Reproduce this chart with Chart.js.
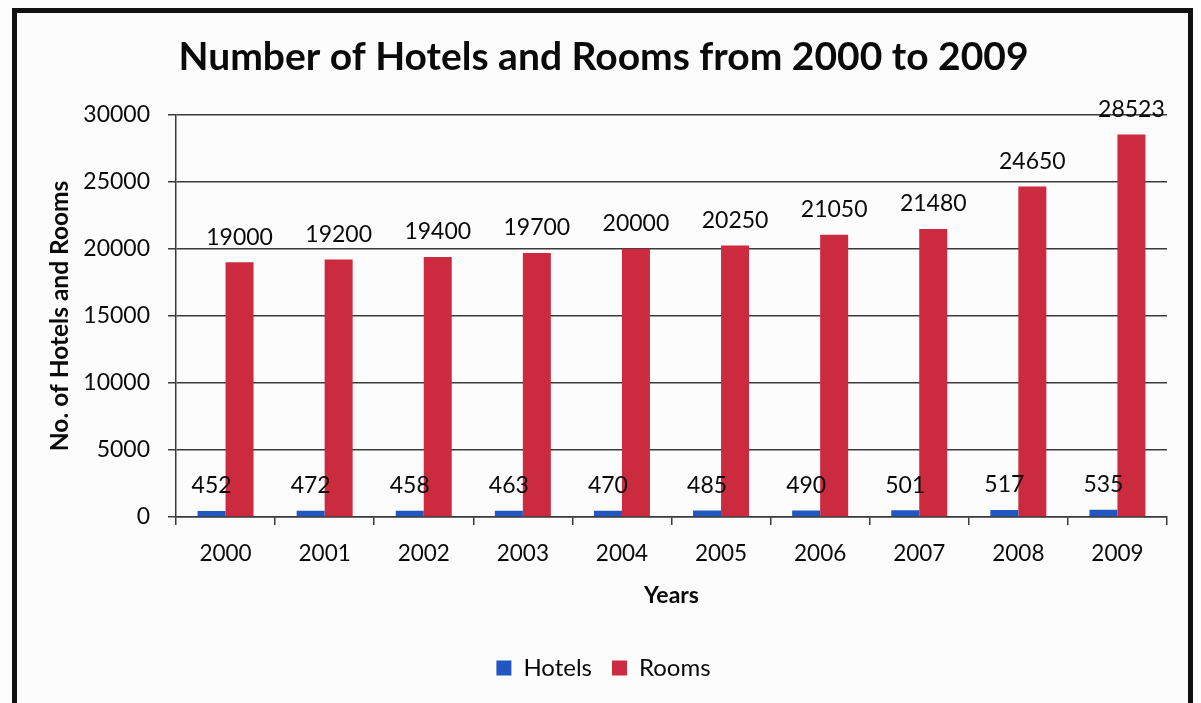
<!DOCTYPE html>
<html>
<head>
<meta charset="utf-8">
<script src="https://cdn.jsdelivr.net/npm/chart.js@4/dist/chart.umd.min.js"></script>
<style>
  html, body { margin: 0; padding: 0; background: #fdfdfd; overflow: hidden; }
  .frame {
    position: absolute; left: 12px; top: 8px; width: 1171px; height: 760px;
    border: 5px solid #111; background: #fcfcfc;
  }
  .wrap { position: absolute; left: 0; top: 0; width: 1201px; height: 703px; }
</style>
</head>
<body>
<div class="frame"></div>
<div class="wrap"><canvas id="hotelsChart" width="1201" height="703"></canvas></div>
<script>
const years = ['2000', '2001', '2002', '2003', '2004', '2005', '2006', '2007', '2008', '2009'];
const hotels = [452, 472, 458, 463, 470, 485, 490, 501, 517, 535];
const rooms = [19000, 19200, 19400, 19700, 20000, 20250, 21050, 21480, 24650, 28523];
const yTicks = [0, 5000, 10000, 15000, 20000, 25000, 30000];

const FONT = "Lato, 'Open Sans', sans-serif";
const AXIS = '#3a3a3a';

// value labels above each bar
const barLabels = {
  id: 'barLabels',
  afterDatasetsDraw(chart) {
    const ctx = chart.ctx;
    ctx.save();
    ctx.font = '23px ' + FONT;
    ctx.fillStyle = '#0a0a0a';
    ctx.textAlign = 'center';
    ctx.textBaseline = 'middle';
    chart.data.datasets.forEach((ds, i) => {
      chart.getDatasetMeta(i).data.forEach((bar, j) => {
        ctx.fillText(String(ds.data[j]), bar.x, bar.y - 25);
      });
    });
    ctx.restore();
  }
};

new Chart(document.getElementById('hotelsChart'), {
  type: 'bar',
  data: {
    labels: years,
    datasets: [
      { label: 'Hotels', data: hotels, backgroundColor: '#2256c0' },
      { label: 'Rooms', data: rooms, backgroundColor: '#cc2a3f' }
    ]
  },
  options: {
    responsive: false,
    animation: false,
    layout: { padding: { left: 40, right: 34, top: 33, bottom: 13 } },
    datasets: { bar: { categoryPercentage: 0.565, barPercentage: 1.0 } },
    scales: {
      x: {
        afterFit(scale) { scale.height = 119; },
        grid: { drawOnChartArea: false, drawTicks: true, tickLength: 8, color: AXIS, lineWidth: 1.5 },
        border: { color: AXIS, width: 1.5 },
        ticks: { color: '#0a0a0a', padding: 15, font: { family: FONT, size: 22.5 } },
        title: {
          display: true, text: 'Years', color: '#0a0a0a',
          font: { family: FONT, size: 23, weight: 'bold' },
          padding: { top: 0, bottom: 27 }
        }
      },
      y: {
        min: 0, max: 30000,
        afterFit(scale) { scale.width = 136; },
        afterBuildTicks(scale) { scale.ticks = yTicks.map(v => ({ value: v })); },
        grid: { color: AXIS, lineWidth: 1.5, tickLength: 8 },
        border: { color: AXIS, width: 1.5 },
        ticks: {
          color: '#0a0a0a', padding: 18, font: { family: FONT, size: 23 },
          callback: v => String(v)
        },
        title: {
          display: true, text: 'No. of Hotels and Rooms', color: '#0a0a0a',
          font: { family: FONT, size: 24.5, weight: 'bold' },
          padding: { top: 5, bottom: 0 }
        }
      }
    },
    plugins: {
      title: {
        display: true, text: 'Number of Hotels and Rooms from 2000 to 2009', color: '#0a0a0a',
        font: { family: FONT, size: 39, weight: 'bold' },
        padding: { top: 1, bottom: 34 }
      },
      legend: {
        position: 'bottom',
        labels: { color: '#0a0a0a', boxWidth: 15, boxHeight: 15, padding: 20, font: { family: FONT, size: 24 } }
      },
      tooltip: { enabled: false }
    }
  },
  plugins: [barLabels]
});
</script>
</body>
</html>
